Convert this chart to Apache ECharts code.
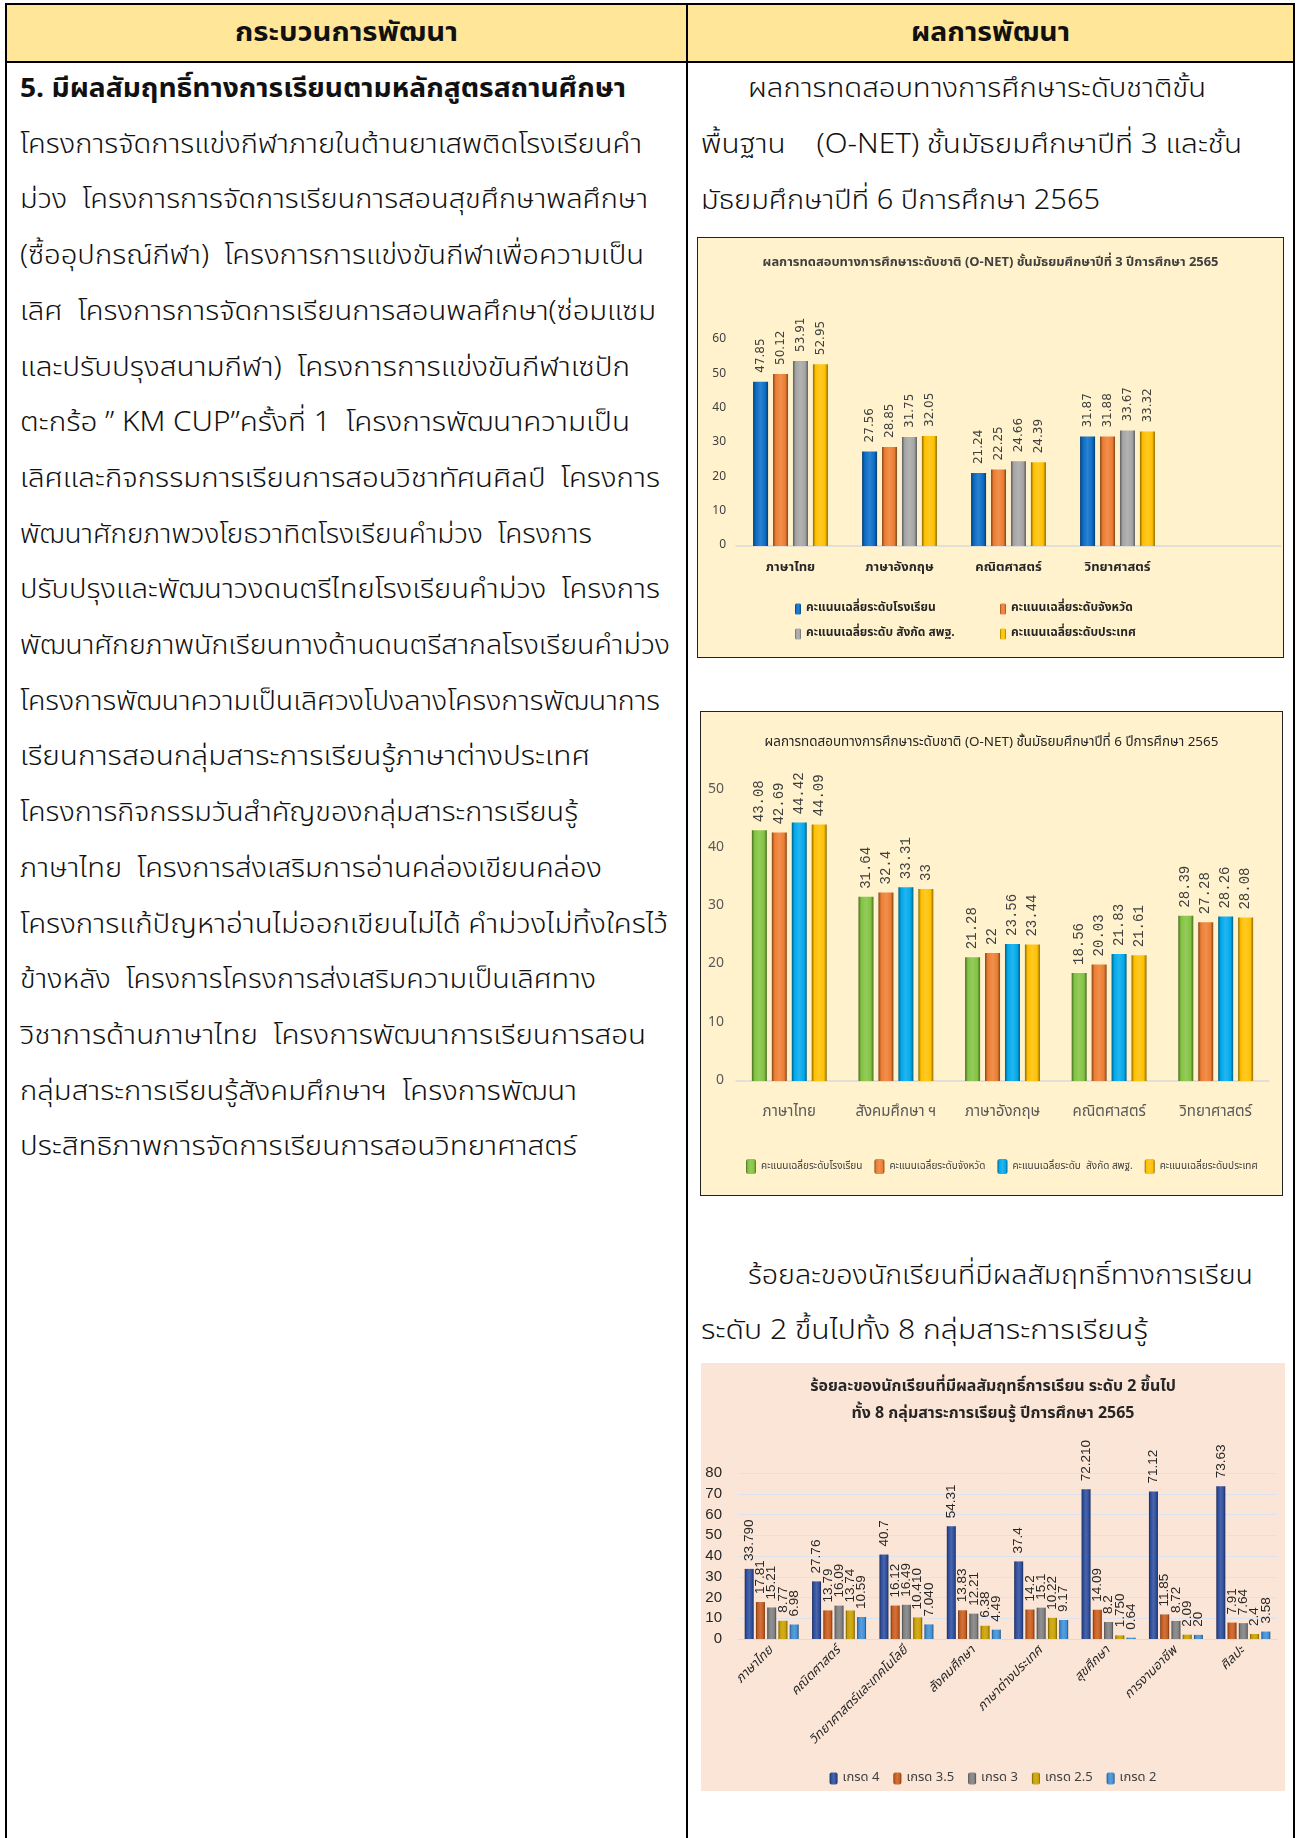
<!DOCTYPE html>
<html><head><meta charset="utf-8">
<script src="https://cdn.jsdelivr.net/npm/echarts@6.0.0/dist/echarts.min.js"></script>
<style>
html,body{margin:0;padding:0;background:#fff;}
body{width:1298px;height:1838px;position:relative;overflow:hidden;}
.ln{position:absolute;background:#000;}
.tx{position:absolute;white-space:pre;font-family:"Noto Sans Thai","Noto Sans Thai UI","Loma","Garuda","Noto Sans",sans-serif;font-size:27px;font-weight:300;line-height:40px;height:40px;color:#111;transform-origin:0 50%;}
.b{font-weight:bold;}
.chart{position:absolute;}
</style>
</head><body>
<div style="position:absolute;left:7px;top:5px;width:1286px;height:56px;background:#FFE699"></div>
<div class="ln" style="left:5px;top:3px;width:1290px;height:2px"></div>
<div class="ln" style="left:5px;top:61px;width:1290px;height:2px"></div>
<div class="ln" style="left:5px;top:3px;width:2px;height:1835px"></div>
<div class="ln" style="left:1293px;top:3px;width:2px;height:1835px"></div>
<div class="ln" style="left:686px;top:3px;width:2px;height:1835px"></div>
<div id="txt"></div>
<div id="c1" class="chart" style="left:698px;top:238px;width:585px;height:419px;outline:1.5px solid #222"></div>
<div id="c2" class="chart" style="left:701px;top:712px;width:581px;height:483px;outline:1.5px solid #222"></div>
<div id="c3" class="chart" style="left:701px;top:1363px;width:584px;height:428px;"></div>
<script>
// ---------------- DATA ----------------
const headerLeft = 'กระบวนการพัฒนา';
const headerRight = 'ผลการพัฒนา';
const leftLines = [
 '5. มีผลสัมฤทธิ์ทางการเรียนตามหลักสูตรสถานศึกษา',
 'โครงการจัดการแข่งกีฬาภายในต้านยาเสพติดโรงเรียนคำ',
 'ม่วง  โครงการการจัดการเรียนการสอนสุขศึกษาพลศึกษา',
 '(ซื้ออุปกรณ์กีฬา)  โครงการการแข่งขันกีฬาเพื่อความเป็น',
 'เลิศ  โครงการการจัดการเรียนการสอนพลศึกษา(ซ่อมแซม',
 'และปรับปรุงสนามกีฬา)  โครงการการแข่งขันกีฬาเซปัก',
 'ตะกร้อ ” KM CUP”ครั้งที่ 1  โครงการพัฒนาความเป็น',
 'เลิศและกิจกรรมการเรียนการสอนวิชาทัศนศิลป์  โครงการ',
 'พัฒนาศักยภาพวงโยธวาทิตโรงเรียนคำม่วง  โครงการ',
 'ปรับปรุงและพัฒนาวงดนตรีไทยโรงเรียนคำม่วง  โครงการ',
 'พัฒนาศักยภาพนักเรียนทางด้านดนตรีสากลโรงเรียนคำม่วง',
 'โครงการพัฒนาความเป็นเลิศวงโปงลางโครงการพัฒนาการ',
 'เรียนการสอนกลุ่มสาระการเรียนรู้ภาษาต่างประเทศ',
 'โครงการกิจกรรมวันสำคัญของกลุ่มสาระการเรียนรู้',
 'ภาษาไทย  โครงการส่งเสริมการอ่านคล่องเขียนคล่อง',
 'โครงการแก้ปัญหาอ่านไม่ออกเขียนไม่ได้ คำม่วงไม่ทิ้งใครไว้',
 'ข้างหลัง  โครงการโครงการส่งเสริมความเป็นเลิศทาง',
 'วิชาการด้านภาษาไทย  โครงการพัฒนาการเรียนการสอน',
 'กลุ่มสาระการเรียนรู้สังคมศึกษาฯ  โครงการพัฒนา',
 'ประสิทธิภาพการจัดการเรียนการสอนวิทยาศาสตร์'
];
const rightLinesTop = [
 'ผลการทดสอบทางการศึกษาระดับชาติขั้น',
 'พื้นฐาน    (O-NET) ชั้นมัธยมศึกษาปีที่ 3 และชั้น',
 'มัธยมศึกษาปีที่ 6 ปีการศึกษา 2565'
];
const rightLinesBottom = [
 'ร้อยละของนักเรียนที่มีผลสัมฤทธิ์ทางการเรียน',
 'ระดับ 2 ขึ้นไปทั้ง 8 กลุ่มสาระการเรียนรู้'
];

// Chart 1: O-NET M.3
const c1Title = 'ผลการทดสอบทางการศึกษาระดับชาติ (O-NET) ชั้นมัธยมศึกษาปีที่ 3 ปีการศึกษา 2565';
const c1Categories = ['ภาษาไทย', 'ภาษาอังกฤษ', 'คณิตศาสตร์', 'วิทยาศาสตร์', ''];
const c1SeriesNames = ['คะแนนเฉลี่ยระดับโรงเรียน', 'คะแนนเฉลี่ยระดับจังหวัด', 'คะแนนเฉลี่ยระดับ สังกัด สพฐ.', 'คะแนนเฉลี่ยระดับประเทศ'];
const c1School   = [47.85, 27.56, 21.24, 31.87, null];
const c1Province = [50.12, 28.85, 22.25, 31.88, null];
const c1Obec     = [53.91, 31.75, 24.66, 33.67, null];
const c1Nation   = [52.95, 32.05, 24.39, 33.32, null];

// Chart 2: O-NET M.6
const c2Title = 'ผลการทดสอบทางการศึกษาระดับชาติ (O-NET) ชั้นมัธยมศึกษาปีที่ 6 ปีการศึกษา 2565';
const c2Categories = ['ภาษาไทย', 'สังคมศึกษา ฯ', 'ภาษาอังกฤษ', 'คณิตศาสตร์', 'วิทยาศาสตร์'];
const c2SeriesNames = ['คะแนนเฉลี่ยระดับโรงเรียน', 'คะแนนเฉลี่ยระดับจังหวัด', 'คะแนนเฉลี่ยระดับ  สังกัด สพฐ.', 'คะแนนเฉลี่ยระดับประเทศ'];
const c2School   = [43.08, 31.64, 21.28, 18.56, 28.39];
const c2Province = [42.69, 32.4, 22, 20.03, 27.28];
const c2Obec     = [44.42, 33.31, 23.56, 21.83, 28.26];
const c2Nation   = [44.09, 33, 23.44, 21.61, 28.08];

// Chart 3: grade >= 2 percentages
const c3TitleLines = ['ร้อยละของนักเรียนที่มีผลสัมฤทธิ์การเรียน ระดับ 2 ขึ้นไป', 'ทั้ง 8 กลุ่มสาระการเรียนรู้ ปีการศึกษา 2565'];
const c3Categories = ['ภาษาไทย', 'คณิตศาสตร์', 'วิทยาศาสตร์และเทคโนโลยี', 'สังคมศึกษา', 'ภาษาต่างประเทศ', 'สุขศึกษา', 'การงานอาชีพ', 'ศิลปะ'];
const c3SeriesNames = ['เกรด 4', 'เกรด 3.5', 'เกรด 3', 'เกรด 2.5', 'เกรด 2'];
const c3Grade4  = [33.79, 27.76, 40.7, 54.31, 37.4, 72.21, 71.12, 73.63];
const c3Grade35 = [17.81, 13.79, 16.12, 13.83, 14.2, 14.09, 11.85, 7.91];
const c3Grade3  = [15.21, 16.09, 16.49, 12.21, 15.1, 8.2, 8.72, 7.64];
const c3Grade25 = [8.77, 13.74, 10.41, 6.38, 10.22, 1.75, 2.09, 2.4];
const c3Grade2  = [6.98, 10.59, 7.04, 4.49, 9.17, 0.64, 2.0, 3.58];
const c3Grade4Labels  = ['33.790', '27.76', '40.7', '54.31', '37.4', '72.210', '71.12', '73.63'];
const c3Grade35Labels = ['17.81', '13.79', '16.12', '13.83', '14.2', '14.09', '11.85', '7.91'];
const c3Grade3Labels  = ['15.21', '16.09', '16.49', '12.21', '15.1', '8.2', '8.72', '7.64'];
const c3Grade25Labels = ['8.77', '13.74', '10.410', '6.38', '10.22', '1.750', '2.09', '2.4'];
const c3Grade2Labels  = ['6.98', '10.59', '7.040', '4.49', '9.17', '0.64', '20', '3.58'];

// ---------------- TEXT LAYOUT ----------------
const TH = '"Noto Sans Thai","Noto Sans Thai UI","Loma","Garuda","Noto Sans",sans-serif';
const txt = document.getElementById('txt');
function addLine(s, x, yc, w, bold, center){
  const d = document.createElement('div');
  d.className = 'tx' + (bold ? ' b' : '');
  d.textContent = s;
  d.style.top = (yc - 20) + 'px';
  txt.appendChild(d);
  const mw = d.getBoundingClientRect().width;
  const k = w / mw;
  const left = center ? x - w / 2 : x;
  d.style.left = left + 'px';
  d.style.transform = 'scaleX(' + k + ')';
}
addLine(headerLeft, 346, 33, 223, true, true);
addLine(headerRight, 990, 33, 159, true, true);
const leftW = [606, 622, 628, 624, 636, 610, 610, 640, 572, 640, 650, 640, 570, 558, 582, 648, 576, 626, 557, 557];
leftLines.forEach((s, i) => addLine(s, 20, 89 + i * 55.7, leftW[i], i === 0, false));
addLine(rightLinesTop[0], 748, 89, 458, false, false);
addLine(rightLinesTop[1], 701, 145, 541, false, false);
addLine(rightLinesTop[2], 701, 201, 399, false, false);
addLine(rightLinesBottom[0], 748, 1276, 505, false, false);
addLine(rightLinesBottom[1], 701, 1331, 447, false, false);

// ---------------- CHART HELPERS ----------------
const cv = document.createElement('canvas').getContext('2d');
function fit(text, weight, family, target){ cv.font = weight + ' 100px ' + family; return 100 * target / cv.measureText(text).width; }
function shade(hex, p){
  const n = parseInt(hex.slice(1), 16);
  let r = n >> 16, g = (n >> 8) & 255, b = n & 255;
  const f = v => Math.max(0, Math.min(255, Math.round(p < 0 ? v * (1 + p) : v + (255 - v) * p)));
  return 'rgb(' + f(r) + ',' + f(g) + ',' + f(b) + ')';
}
function bevel(c){
  return {type:'linear', x:0, y:0, x2:1, y2:0, colorStops:[
    {offset:0, color:shade(c,-0.45)}, {offset:0.18, color:c}, {offset:0.5, color:shade(c,0.14)},
    {offset:0.82, color:c}, {offset:1, color:shade(c,-0.45)}]};
}
function barSeries(name, data, color, bw, gap, lab){
  return {type:'bar', name, data, barWidth:bw, barGap:gap,
    itemStyle:{color:bevel(color)},
    label:Object.assign({show:true, position:'top', rotate:90, align:'left', verticalAlign:'middle'}, lab)};
}

// ---------------- CHART 1 ----------------
const c1Colors = ['#0A6CC6', '#ED7D31', '#A5A5A5', '#FFC000'];
const c1Lab = {distance:9, fontSize:12, color:'#404040', fontFamily:'DejaVu Sans'};
const ch1 = echarts.init(document.getElementById('c1'));
ch1.setOption({
  backgroundColor:'#FFF2CC', animation:false,
  title:{text:c1Title, left:'center', top:14, textStyle:{fontFamily:TH, fontWeight:'bold', color:'#404040', fontSize:fit(c1Title,'bold',TH,456)}},
  grid:{left:38, right:2, top:102, bottom:111},
  legend:[
    {data:[c1SeriesNames[0], c1SeriesNames[2]], orient:'vertical', left:92, top:360, itemWidth:6, itemHeight:11, itemGap:13,
     textStyle:{fontFamily:TH, fontSize:12, fontWeight:'bold', color:'#262626'}},
    {data:[c1SeriesNames[1], c1SeriesNames[3]], orient:'vertical', left:297, top:360, itemWidth:6, itemHeight:11, itemGap:13,
     textStyle:{fontFamily:TH, fontSize:12, fontWeight:'bold', color:'#262626'}}
  ],
  xAxis:{type:'category', data:c1Categories, axisLine:{lineStyle:{color:'#D9D9D9', width:1.5}}, axisTick:{show:false},
    axisLabel:{fontFamily:TH, fontSize:13, fontWeight:'bold', color:'#262626', margin:16}},
  yAxis:{type:'value', min:0, max:60, interval:10, splitLine:{show:false}, axisLine:{show:false},
    axisLabel:{fontFamily:TH, fontSize:12, color:'#404040', margin:10}},
  series:[
    barSeries(c1SeriesNames[0], c1School, c1Colors[0], 15, '33%', c1Lab),
    barSeries(c1SeriesNames[1], c1Province, c1Colors[1], 15, '33%', c1Lab),
    barSeries(c1SeriesNames[2], c1Obec, c1Colors[2], 15, '33%', c1Lab),
    barSeries(c1SeriesNames[3], c1Nation, c1Colors[3], 15, '33%', c1Lab)
  ]
});

// ---------------- CHART 2 ----------------
const c2Colors = ['#82C341', '#ED7D31', '#00A9EC', '#FFC000'];
const c2Lab = {distance:8, fontSize:14, color:'#404040', fontFamily:'Liberation Mono'};
const ch2 = echarts.init(document.getElementById('c2'));
ch2.setOption({
  backgroundColor:'#FFF2CC', animation:false,
  title:{text:c2Title, left:'center', top:20, textStyle:{fontFamily:TH, fontWeight:'normal', color:'#262626', fontSize:fit(c2Title,'normal',TH,454)}},
  grid:{left:35, right:13, top:78, bottom:114},
  legend:{data:c2SeriesNames, left:40, top:442, itemWidth:10, itemHeight:15, itemGap:12,
    textStyle:{fontFamily:TH, fontSize:10, color:'#404040'}},
  xAxis:{type:'category', data:c2Categories, axisLine:{lineStyle:{color:'#D9D9D9', width:1.5}}, axisTick:{show:false},
    axisLabel:{fontFamily:TH, fontSize:15, color:'#595959', margin:24}},
  yAxis:{type:'value', min:0, max:50, interval:10, splitLine:{show:false}, axisLine:{show:false},
    axisLabel:{fontFamily:TH, fontSize:14, color:'#595959', margin:12}},
  series:[
    barSeries(c2SeriesNames[0], c2School, c2Colors[0], 15, '33%', c2Lab),
    barSeries(c2SeriesNames[1], c2Province, c2Colors[1], 15, '33%', c2Lab),
    barSeries(c2SeriesNames[2], c2Obec, c2Colors[2], 15, '33%', c2Lab),
    barSeries(c2SeriesNames[3], c2Nation, c2Colors[3], 15, '33%', c2Lab)
  ]
});

// ---------------- CHART 3 ----------------
const c3Colors = ['#2C4C9C', '#C85C1E', '#7F7F7F', '#C9A000', '#3F8ED6'];
const c3Data = [c3Grade4, c3Grade35, c3Grade3, c3Grade25, c3Grade2];
const c3Labels = [c3Grade4Labels, c3Grade35Labels, c3Grade3Labels, c3Grade25Labels, c3Grade2Labels];
const ch3 = echarts.init(document.getElementById('c3'));
ch3.setOption({
  backgroundColor:'#FBE5D6', animation:false,
  title:{text:c3TitleLines.join('\n'), left:'center', top:6, padding:[5, 57, 5, 5],
    textStyle:{fontFamily:TH, fontWeight:'bold', color:'#262626', fontSize:fit(c3TitleLines[0],'bold',TH,366), lineHeight:27}},
  grid:{left:37, right:8, top:110, bottom:152},
  legend:{data:c3SeriesNames, left:'center', top:404, itemWidth:8, itemHeight:12, itemGap:14,
    textStyle:{fontFamily:TH, fontSize:13, color:'#404040'}},
  xAxis:{type:'category', data:c3Categories, axisLine:{lineStyle:{color:'#D6DCE5'}}, axisTick:{show:false},
    axisLabel:{fontFamily:TH, fontSize:13, fontStyle:'italic', color:'#262626', rotate:45, margin:10, interval:0}},
  yAxis:{type:'value', min:0, max:80, interval:10, splitLine:{lineStyle:{color:'#DCE3EE'}}, axisLine:{show:false},
    axisLabel:{fontFamily:'Liberation Sans', fontSize:15, color:'#262626', margin:16}},
  series:c3SeriesNames.map((n, k) => barSeries(n, c3Data[k], c3Colors[k], 9, '25%',
    {distance:8, fontSize:13.5, color:'#262626', fontFamily:'Liberation Sans', formatter:p => c3Labels[k][p.dataIndex]}))
});
</script>
</body></html>
